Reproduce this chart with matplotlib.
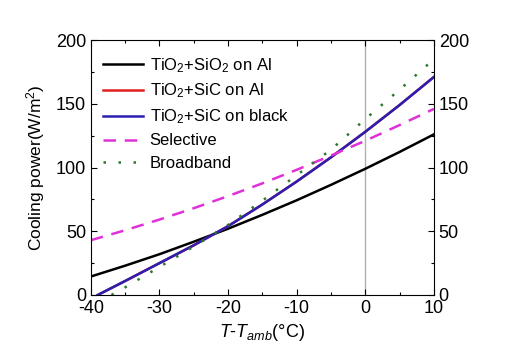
import matplotlib
matplotlib.use("Agg")
import matplotlib.pyplot as plt
from matplotlib.ticker import MultipleLocator

plt.rcParams['font.family'] = ['Liberation Sans', 'DejaVu Sans']
plt.rcParams['mathtext.fontset'] = 'custom'
plt.rcParams['mathtext.rm'] = 'Liberation Sans'
plt.rcParams['mathtext.it'] = 'Liberation Sans:italic'
plt.rcParams['axes.unicode_minus'] = False

T = [-40, -35, -30, -25, -20, -15, -10, -5, 0, 5, 10]
sio2_al = [14.5, 23, 32, 41.8, 52, 62.9, 74.3, 86.4, 99, 112.2, 126]
T_sic = [-39, -35, -30, -25, -20, -15, -10, -5, 0, 5, 10]
sic_al = [0, 11, 25, 39, 54, 71, 89, 108, 128, 149, 171]
sic_black = [0, 11, 25, 39, 54, 71, 89, 108, 128, 149, 171]
selective = [43, 50.8, 59.2, 68.1, 77.6, 87.6, 98.2, 109.4, 121, 133.3, 146]
T_bb = [-37, -35, -30, -25, -20, -15, -10, -5, 0, 5, 10]
broadband = [0, 6, 22, 38, 55, 74, 94, 114, 138, 161, 185]

fig = plt.figure(figsize=(5.05, 3.54), dpi=100)
ax = fig.add_axes([0.180, 0.1667, 0.679, 0.720])

ax.axvline(0, color='#b0b0b0', lw=1.0, zorder=1)
ax.plot(T, sio2_al, color='black', lw=1.8, label='TiO$_2$+SiO$_2$ on Al')
ax.plot(T_sic, sic_al, color='#e02020', lw=1.8, label='TiO$_2$+SiC on Al')
ax.plot(T_sic, sic_black, color='#2a1fb0', lw=1.8, label='TiO$_2$+SiC on black')
ax.plot(T, selective, color='#e030d8', lw=1.8, ls=(0, (5, 3.5)), label='Selective')
ax.plot(T_bb, broadband, color='#2a7a2a', lw=1.8, ls=(0, (1, 5)), label='Broadband')

ax.set_xlim(-40, 10)
ax.set_ylim(0, 200)
ax.xaxis.set_major_locator(MultipleLocator(10))
ax.xaxis.set_minor_locator(MultipleLocator(5))
ax.yaxis.set_major_locator(MultipleLocator(50))
ax.yaxis.set_minor_locator(MultipleLocator(25))
ax.tick_params(which='both', direction='in', top=True, right=True, labelright=True,
               labelsize=13)
ax.tick_params(which='major', length=4, width=0.8)
ax.tick_params(which='minor', length=2.5, width=0.8)
for s in ax.spines.values():
    s.set_linewidth(0.8)

ax.set_ylabel('Cooling power(W/m$^2$)', fontsize=12.5, labelpad=6)
ax.set_xlabel('$T$-$T_{amb}$(°C)', fontsize=13, labelpad=4)

ax.legend(loc='upper left', frameon=False, fontsize=12, handlelength=2.4,
          labelspacing=0.43, borderaxespad=0.3, handletextpad=0.42,
          bbox_to_anchor=(0.0, 0.984))

fig.savefig('out.png', dpi=100)
